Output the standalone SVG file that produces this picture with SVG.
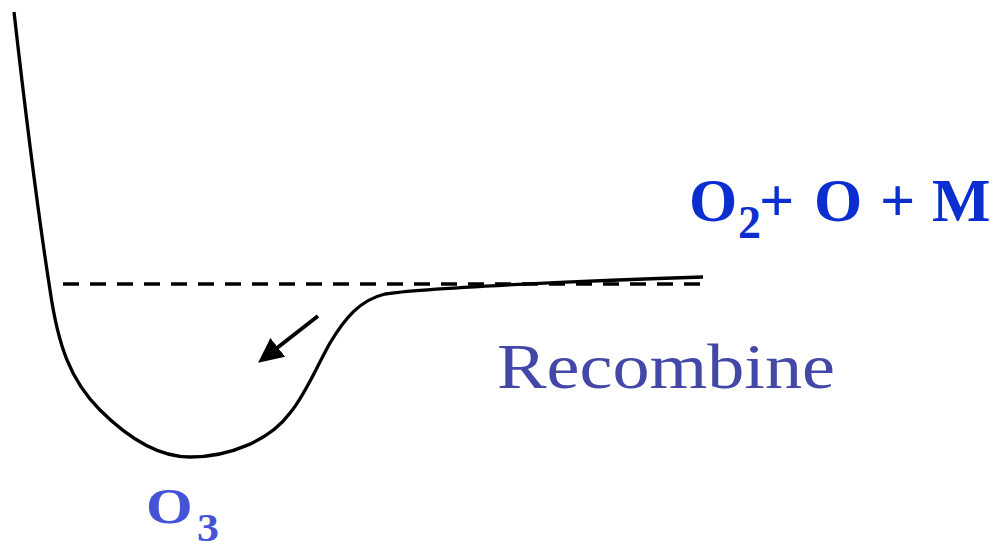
<svg xmlns="http://www.w3.org/2000/svg" width="998" height="544" viewBox="0 0 998 544">
<style>
.curve{fill:none;stroke:#000;stroke-width:3.3;stroke-linejoin:round;stroke-linecap:butt}
.dash{fill:none;stroke:#000;stroke-width:3.3;stroke-dasharray:16 11}
.bold{font-family:"Liberation Serif","Times New Roman",serif;font-weight:bold}
.reg{font-family:"Liberation Serif","Times New Roman",serif}
</style>
<defs>
<marker id="ah" markerUnits="userSpaceOnUse" markerWidth="26" markerHeight="26" refX="1" refY="12" orient="auto" viewBox="0 0 26 24">
<path d="M0,0 L25,12 L0,24 Z" fill="#000"/>
</marker>
</defs>
<g id="potential">
<path class="curve" d="M14,12 C24,100 36,200 50,290 C58,345 70,380 100,410 C130,440 160,457 190,457 C230,457 270,440 290,413 C305,395 315,370 330,343 C345,318 360,300 385,294 C420,288 600,280 703,277"/>
</g>
<g id="connectors">
<line class="dash" x1="63" y1="284" x2="700" y2="284"/>
<line x1="318" y1="316" x2="277" y2="348" stroke="#000" stroke-width="4" marker-end="url(#ah)"/>
</g>
<g id="reactants">
<text class="bold" fill="#0a2ecf" font-size="62"><tspan x="689" y="221">O</tspan><tspan x="738" y="238" font-size="46">2</tspan><tspan x="759" y="221">+</tspan><tspan x="814" y="221">O</tspan><tspan x="880" y="221">+</tspan><tspan x="932" y="221">M</tspan></text>
</g>
<g id="product">
<text class="bold" fill="#4553d6" font-size="50" transform="translate(146,523) scale(1.2,1)">O</text>
<text class="bold" fill="#4553d6" font-size="40" transform="translate(197,541) scale(1.1,1)">3</text>
</g>
<g id="label">
<text class="reg" fill="#4348a8" font-size="64" x="497" y="388" textLength="338" lengthAdjust="spacingAndGlyphs">Recombine</text>
</g>
</svg>
